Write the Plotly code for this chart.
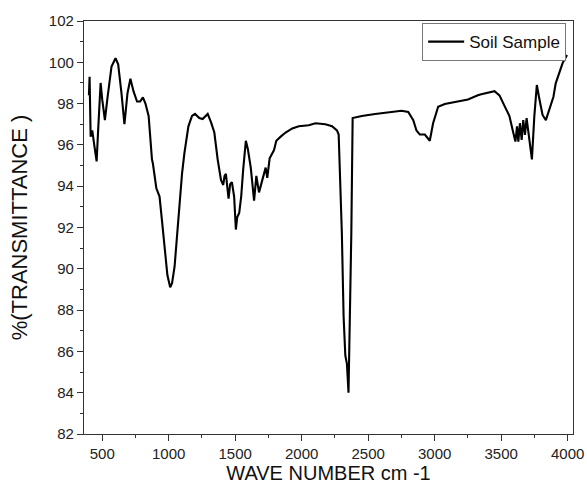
import plotly.graph_objects as go

wavenumber = [400, 405, 413, 425, 440, 458, 470, 488, 500, 520, 540, 570, 600, 620, 645, 667, 690, 712,
              735, 762, 785, 806, 825, 849, 874, 881, 907, 931, 950, 969, 990, 1011, 1025, 1044, 1060,
              1081, 1100, 1118, 1148, 1175, 1198, 1230, 1255, 1293, 1318, 1343, 1368, 1393, 1410, 1420,
              1430, 1450, 1462, 1475, 1492, 1505, 1515, 1530, 1545, 1560, 1580, 1595, 1617, 1642, 1659,
              1679, 1704, 1729, 1741, 1759, 1792, 1809, 1842, 1879, 1929, 1978, 2053, 2103, 2178, 2228,
              2265, 2278, 2302, 2315, 2328, 2340, 2352, 2360, 2373, 2383, 2452, 2552, 2627, 2751, 2801,
              2839, 2863, 2888, 2926, 2963, 2988, 3026, 3076, 3175, 3250, 3325, 3350, 3450, 3487, 3524,
              3562, 3587, 3607, 3619, 3629, 3641, 3654, 3666, 3679, 3691, 3704, 3719, 3731, 3749, 3768,
              3786, 3811, 3836, 3861, 3893, 3910, 3936, 3961, 3995]
transmittance = [98.4, 99.3, 96.4, 96.7, 96.0, 95.2, 96.8, 99.0, 98.2, 97.2, 98.3, 99.8, 100.2, 99.9, 98.5,
                 97.0, 98.5, 99.2, 98.6, 98.1, 98.1, 98.3, 98.0, 97.4, 95.3, 95.1, 93.9, 93.5, 92.3, 90.9,
                 89.7, 89.1, 89.3, 90.1, 91.5, 93.3, 94.6, 95.6, 96.9, 97.4, 97.5, 97.3, 97.25, 97.5, 97.1,
                 96.6, 95.3, 94.3, 94.06, 94.5, 94.6, 93.4, 94.1, 94.2, 93.5, 91.9, 92.5, 92.7, 93.5, 94.8,
                 96.2, 95.8, 94.9, 93.3, 94.5, 93.7, 94.3, 94.9, 94.4, 95.35, 95.75, 96.2, 96.4, 96.6, 96.8,
                 96.9, 96.95, 97.05, 97.0, 96.9, 96.7, 96.5, 91.7, 87.7, 85.8, 85.4, 84.0, 86.9, 91.7, 97.3,
                 97.4, 97.5, 97.55, 97.65, 97.6, 97.2, 96.7, 96.5, 96.5, 96.2, 97.05, 97.85, 97.98, 98.1,
                 98.2, 98.4, 98.45, 98.6, 98.4, 97.9, 97.4, 96.7, 96.16, 96.9, 96.16, 97.05, 96.24, 97.2,
                 96.48, 97.3, 96.7, 95.85, 95.3, 97.37, 98.9, 98.26, 97.45, 97.2, 97.7, 98.33, 98.98, 99.47,
                 99.95, 100.35]

x_ticks = [500, 1000, 1500, 2000, 2500, 3000, 3500, 4000]
y_ticks = [82, 84, 86, 88, 90, 92, 94, 96, 98, 100, 102]
x_title = "WAVE NUMBER cm -1"
y_title = "%(TRANSMITTANCE )"

FONT = "Liberation Sans, Arial, sans-serif"

fig = go.Figure()
fig.add_trace(go.Scatter(x=wavenumber, y=transmittance, mode="lines", name="Soil Sample",
                         line=dict(color="black", width=2.1)))

axis_common = dict(showline=True, linecolor="#333333", linewidth=1.3, mirror=True, showgrid=False,
                   zeroline=False, ticks="outside", ticklen=6, tickcolor="#333333", tickwidth=1,
                   tickfont=dict(family=FONT, size=15, color="#222222"), automargin=False)

fig.update_xaxes(range=[363, 4040], tickvals=x_ticks,
                 title=dict(text=x_title, standoff=0,
                            font=dict(family=FONT, size=20, color="#111111")),
                 minor=dict(ticks="outside", ticklen=3, dtick=250, tick0=0, tickcolor="#333333"),
                 **axis_common)
fig.update_yaxes(range=[82, 102], tickvals=y_ticks,
                 title=dict(text=y_title, standoff=15,
                            font=dict(family=FONT, size=22, color="#111111")),
                 minor=dict(ticks="outside", ticklen=3, dtick=1, tick0=0, tickcolor="#333333"),
                 **axis_common)

fig.update_layout(width=587, height=496, margin=dict(l=84, r=14, t=21, b=62),
                  plot_bgcolor="white", paper_bgcolor="white", showlegend=True,
                  legend=dict(x=0.986, y=0.995, xanchor="right", yanchor="top",
                              bordercolor="#777777", borderwidth=1, bgcolor="white",
                              font=dict(family=FONT, size=17, color="#111111"),
                              itemwidth=36, tracegroupgap=0))

fig.write_html("out.html")
